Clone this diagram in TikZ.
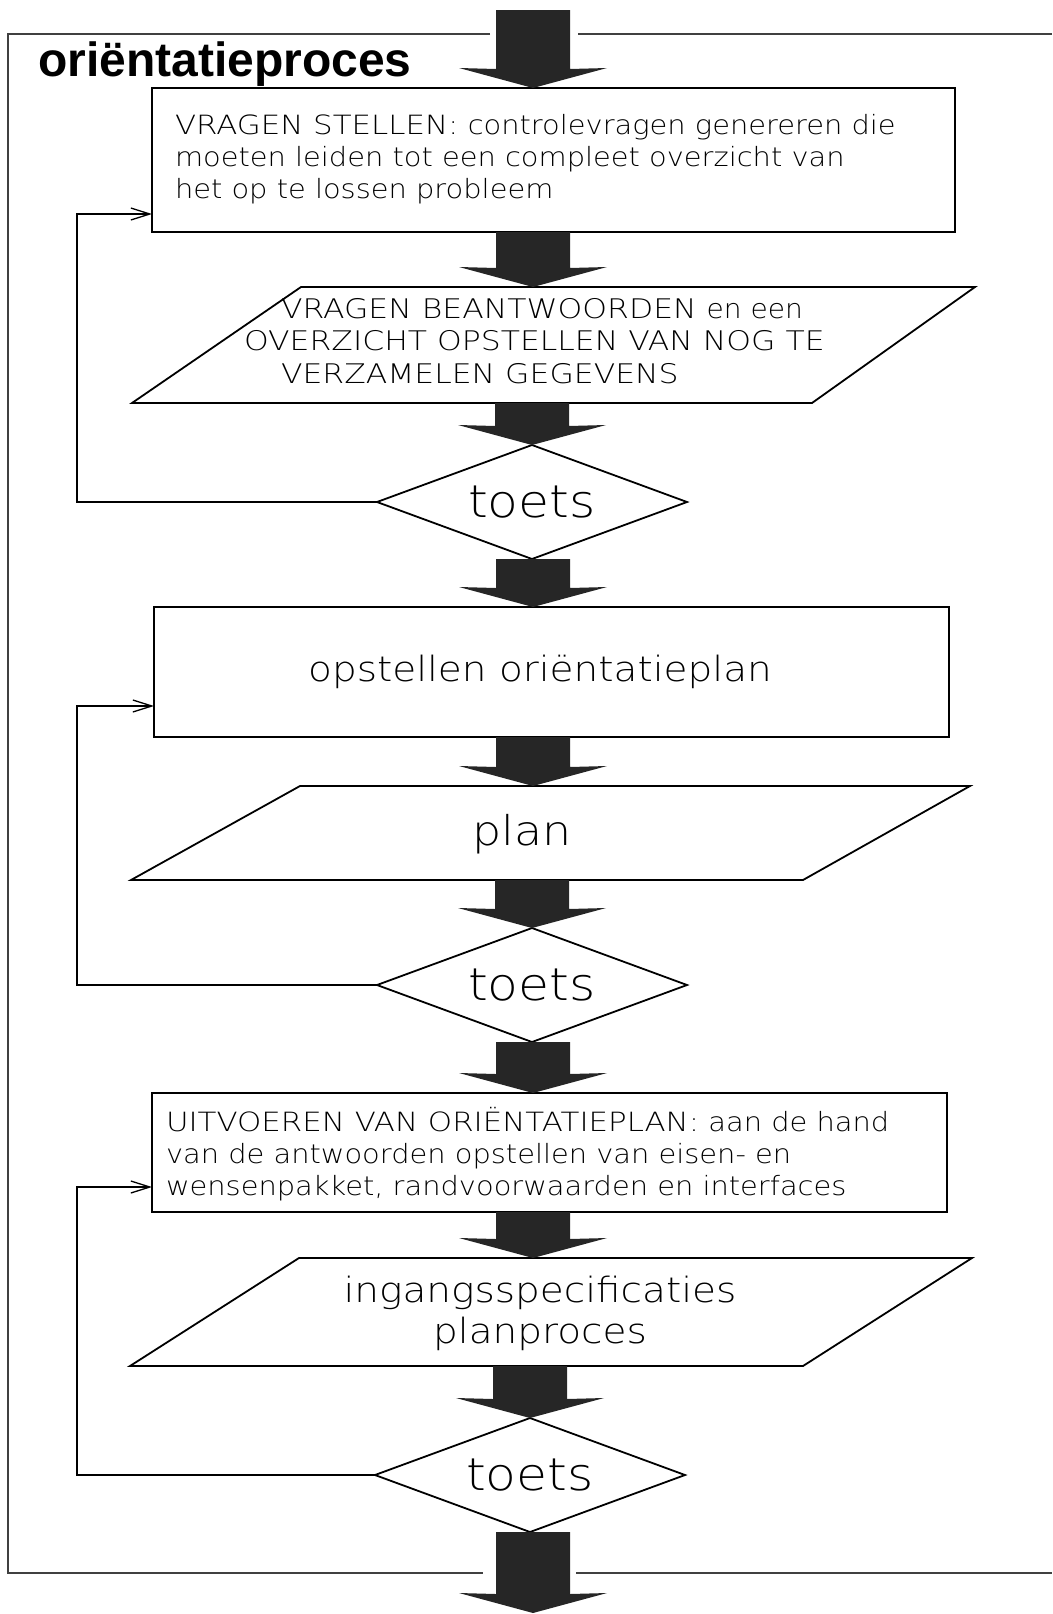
\documentclass[tikz,border=0pt]{standalone}
\usepackage{fontspec}
\usetikzlibrary{shapes.geometric,arrows.meta,calc}
\newfontfamily\plotfont{DejaVuSans-ExtraLight.ttf}[FakeStretch=1.12]
\newfontfamily\plotlc{DejaVuSans-ExtraLight.ttf}[FakeStretch=1.09]
\newfontfamily\plotuc{DejaVuSans-ExtraLight.ttf}[FakeStretch=1.165]
\newfontfamily\titlefont{Liberation Sans}
\newcommand{\plines}[2][l]{\begin{tabular}[t]{@{}#1@{}}#2\end{tabular}}
\newcommand{\boxtext}{\plotlc\fontsize{26.5pt}{32pt}\selectfont}
\newcommand{\paratext}{\plotuc\fontsize{27pt}{32.5pt}\selectfont}
\newcommand{\midtext}{\plotfont\fontsize{34.8pt}{41pt}\selectfont}
\newcommand{\bigtext}{\plotfont\fontsize{45pt}{52pt}\selectfont}
\newcommand{\plantext}{\plotfont\fontsize{41pt}{48pt}\selectfont}
\newcommand{\fatarrow}[2]{\fill[fatarr] let \p1=(#1), \p2=(#2) in
  (\x2-37pt,\y1) -- (\x2+37pt,\y1) -- (\x2+37pt,\y2+19pt) -- (\x2+74pt,\y2+20pt)
  -- (\x2,\y2) -- (\x2-74pt,\y2+20pt) -- (\x2-37pt,\y2+19pt) -- cycle;}
\tikzset{
  framel/.style={line width=1.2pt, black!75},
  shapeline/.style={line width=1.8pt, black, line join=miter},
  procbox/.style={draw, shapeline, rectangle, inner sep=0pt, outer sep=0pt},
  testd/.style={draw, shapeline, diamond, aspect=2.72, inner sep=0pt, outer sep=0pt,
     minimum width=310pt, minimum height=114pt, font=\bigtext},
  fatarr/.style={fill=black!85},
  fb/.style={line width=1.3pt, black, -{Straight Barb[length=19pt,width=12pt,line width=1.3pt]}},
  txt/.style={inner sep=0pt, outer sep=0pt}
}
\begin{document}
\begin{tikzpicture}[x=1pt,y=-1pt]
\useasboundingbox (0,0) rectangle (1052,1614);
% frame
\draw[framel] (490,34) -- (8,34) -- (8,1573) -- (483,1573);
\draw[framel] (578,34) -- (1052,34);
\draw[framel] (576,1573) -- (1052,1573);
\node[txt, anchor=base west, font=\titlefont\bfseries\fontsize{48pt}{56pt}\selectfont] (title) at (38,76) {oriëntatieproces};
% helpers
\coordinate (axis) at (533,0);
\coordinate (fbx) at (77,0);
\coordinate (in) at (533,10);
\coordinate (out) at (533,1613);
% box 1
\node[procbox, minimum width=803pt, minimum height=144pt] (b1) at (553.5,160) {};
\node[txt, anchor=base west, font=\boxtext] (b1t) at (175,134)
  {\plines{{\plotuc VRAGEN STELLEN:} controlevragen genereren die\\moeten leiden tot een compleet overzicht van\\het op te lossen probleem}};
% parallelogram 1
\coordinate (p1a) at (301,287); \coordinate (p1b) at (975,287);
\coordinate (p1c) at (812,403); \coordinate (p1d) at (132,403);
\coordinate (p1top) at (533,287); \coordinate (p1bot) at (533,403);
\draw[shapeline] (p1a) -- (p1b) -- (p1c) -- (p1d) -- cycle;
\node[txt, anchor=base west, font=\paratext] (p1t) at (244,318)
  {\plines{\hspace*{37pt}VRAGEN BEANTWOORDEN {\plotlc\addfontfeature{FakeStretch=1.04}en een}\\OVERZICHT OPSTELLEN VAN NOG TE\\\hspace*{37pt}VERZAMELEN GEGEVENS}};
% diamond 1
\node[testd] (d1) at (532,502) {toets};
% box 2
\node[procbox, minimum width=795pt, minimum height=130pt] (b2) at (551.5,672) {};
\node[txt, anchor=base, font=\midtext] (b2t) at (540,681) {opstellen oriëntatieplan};
% parallelogram 2
\coordinate (p2a) at (300,786); \coordinate (p2b) at (970,786);
\coordinate (p2c) at (803,880); \coordinate (p2d) at (131,880);
\coordinate (p2top) at (533,786); \coordinate (p2bot) at (533,880);
\draw[shapeline] (p2a) -- (p2b) -- (p2c) -- (p2d) -- cycle;
\node[txt, anchor=base, font=\plantext] (p2t) at (522,845) {plan};
% diamond 2
\node[testd] (d2) at (532,985) {toets};
% box 3
\node[procbox, minimum width=795pt, minimum height=119pt] (b3) at (549.5,1152.5) {};
\node[txt, anchor=base west, font=\boxtext] (b3t) at (166,1131)
  {\plines{{\plotuc UITVOEREN VAN ORIËNTATIEPLAN:} aan de hand\\van de antwoorden opstellen van eisen- en\\wensenpakket, randvoorwaarden en interfaces}};
% parallelogram 3
\coordinate (p3a) at (299,1258); \coordinate (p3b) at (972,1258);
\coordinate (p3c) at (803,1366); \coordinate (p3d) at (130,1366);
\coordinate (p3top) at (533,1258); \coordinate (p3bot) at (533,1366);
\draw[shapeline] (p3a) -- (p3b) -- (p3c) -- (p3d) -- cycle;
\node[txt, anchor=base, font=\midtext] (p3t) at (540,1302)
  {\plines[c]{ingangsspecificaties\\planproces}};
% diamond 3
\node[testd] (d3) at (530,1475) {toets};
% fat arrows
\fatarrow{in}{b1.north -| axis}
\fatarrow{b1.south -| axis}{p1top}
\fatarrow{p1bot}{d1.north}
\fatarrow{d1.south}{b2.north -| axis}
\fatarrow{b2.south -| axis}{p2top}
\fatarrow{p2bot}{d2.north}
\fatarrow{d2.south}{b3.north -| axis}
\fatarrow{b3.south -| axis}{p3top}
\fatarrow{p3bot}{d3.north}
\fatarrow{d3.south}{out}
% feedback loops
\coordinate (b1in) at (152,214);
\coordinate (b2in) at (154,706);
\coordinate (b3in) at (152,1187);
\draw[fb] (d1.west) -- (d1.west -| fbx) |- (b1in);
\draw[fb] (d2.west) -- (d2.west -| fbx) |- (b2in);
\draw[fb] (d3.west) -- (d3.west -| fbx) |- (b3in);
\end{tikzpicture}
\end{document}
